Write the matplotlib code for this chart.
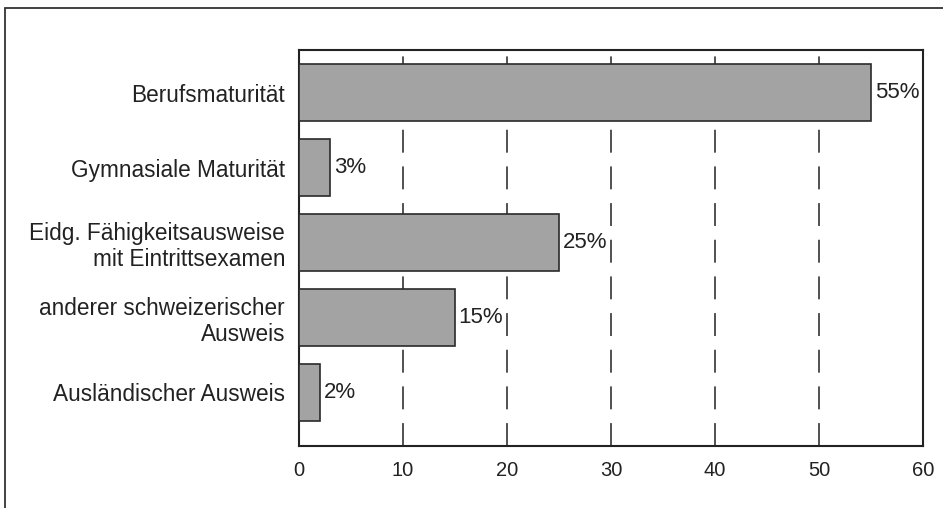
import matplotlib.pyplot as plt
from matplotlib.patches import Rectangle

plt.rcParams['font.family'] = ['Liberation Sans', 'DejaVu Sans']

categories = [
    "Berufsmaturität",
    "Gymnasiale Maturität",
    "Eidg. Fähigkeitsausweise\nmit Eintrittsexamen",
    "anderer schweizerischer\nAusweis",
    "Ausländischer Ausweis",
]
shares = [55, 3, 25, 15, 2]
xticks = [0, 10, 20, 30, 40, 50, 60]

fig = plt.figure(figsize=(9.43, 5.08), dpi=100)
ax = fig.add_axes([299 / 943, 1 - 446 / 508, 624 / 943, 396 / 508])

# thin frame around the whole figure
fig.patches.append(Rectangle((5 / 943, -0.1), 2, 1 - 8 / 508 + 0.1,
                             transform=fig.transFigure, fill=False,
                             edgecolor='#333333', lw=1.3))

pos = list(range(len(categories)))
ax.barh(pos, shares, height=0.76, color='#a3a3a3', edgecolor='#2a2a2a',
        lw=1.2, zorder=3)

for p, v in zip(pos, shares):
    ax.text(v + 0.35, p, f"{v}%", va='center', ha='left', fontsize=16,
            color='#222222', zorder=4)

ax.set_xlim(0, 60)
ax.set_ylim(4.72, -0.57)
ax.set_xticks(xticks)
ax.set_yticks(pos)
ax.set_yticklabels(categories, fontsize=16.3, color='#222222', linespacing=1.2)
ax.tick_params(axis='x', length=0, pad=11, labelsize=14.5, labelcolor='#222222')
ax.tick_params(axis='y', length=0, pad=10)

for x in xticks[1:-1]:
    ax.axvline(x, color='#222222', lw=1.1, linestyle=(0, (15, 9)), zorder=1)

for s in ax.spines.values():
    s.set_linewidth(1.5)
    s.set_color('#222222')

fig.savefig("out.png", dpi=100)
